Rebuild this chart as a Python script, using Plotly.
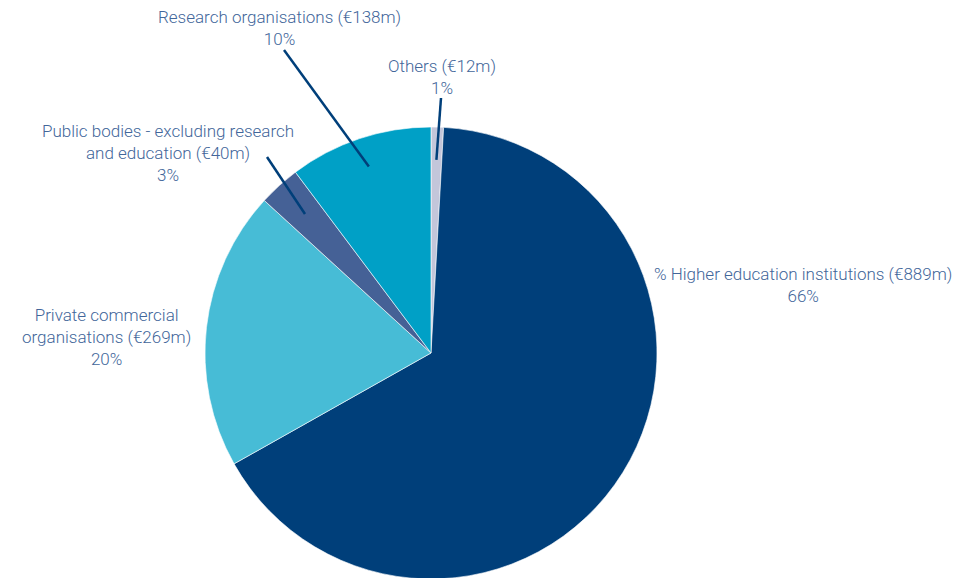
import math
import plotly.graph_objects as go

W, H = 964, 578
OFF = 8  # page body margin in the browser

# Data (clockwise from 12 o'clock)
labels = ["Others", "Higher education institutions", "Private commercial organisations",
          "Public bodies - excluding research and education", "Research organisations"]
values = [12, 889, 269, 40, 138]
colors = ["#c3c6da", "#003f7a", "#47bcd6", "#456196", "#00a0c6"]

label_texts = [
    "Others (€12m)<br>1%",
    "% Higher education institutions (€889m)<br>66%",
    "Private commercial<br>organisations (€269m)<br>20%",
    "Public bodies - excluding research<br>and education (€40m)<br>3%",
    "Research organisations (€138m)<br>10%",
]


def px(x):
    return (x - OFF) / W


def py(y):
    return 1 - (y - OFF) / H


# pie geometry in screen pixels
CX, CY, R = 431, 353, 226
dom_x = [px(CX - R), px(CX + R)]
dom_y = [py(CY + R), py(CY - R)]

fig = go.Figure(go.Pie(
    labels=labels, values=values, sort=False, direction="clockwise", rotation=0,
    marker=dict(colors=colors, line=dict(color="white", width=0.6)),
    textinfo="none", hoverinfo="label+value+percent",
    domain=dict(x=dom_x, y=dom_y), showlegend=False,
))

text_color = "#42669a"
font = dict(family="Roboto, Open Sans, sans-serif", size=17, color=text_color, weight=300)

# label placement: (text center x, text center y, line outer end or None, inner radius fraction)
placement = {
    0: (442, 77, (441, 98), 0.855),
    1: (803, 285, None, None),
    2: (106, 337, None, None),
    3: (168, 153, (267, 157), 0.83),
    4: (279, 28, (284, 50), 0.87),
}

total = sum(values)
cum = 0
for i, v in enumerate(values):
    mid = (cum + v / 2) / total * 360
    cum += v
    tx, ty, outer, frac = placement[i]
    fig.add_annotation(x=px(tx), y=py(ty), xref="paper", yref="paper",
                       text=label_texts[i], showarrow=False, font=font,
                       align="center", xanchor="center", yanchor="middle")
    if outer is not None:
        a = math.radians(mid)
        ix = CX + frac * R * math.sin(a)
        iy = CY - frac * R * math.cos(a)
        fig.add_shape(type="line", xref="paper", yref="paper",
                      x0=px(outer[0]), y0=py(outer[1]),
                      x1=px(ix), y1=py(iy),
                      line=dict(color="#003f7a", width=2.5))

fig.update_layout(
    width=W, height=H,
    margin=dict(l=0, r=0, t=0, b=0),
    paper_bgcolor="white", plot_bgcolor="white",
)

fig.write_html("out.html")
